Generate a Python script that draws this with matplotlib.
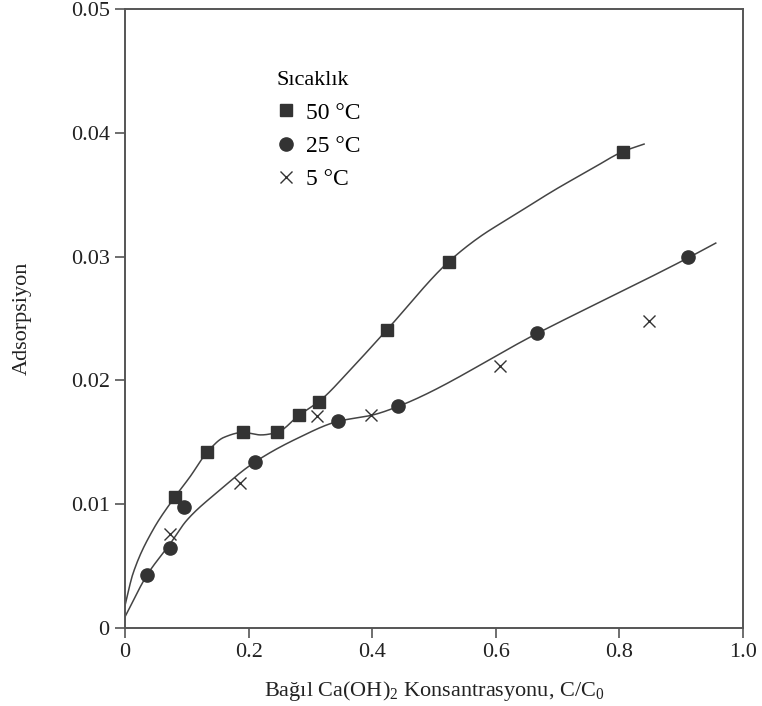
import numpy as np
from matplotlib import pyplot as plt

plt.rcParams['font.family'] = ['Liberation Serif', 'DejaVu Serif']
plt.rcParams['mathtext.fontset'] = 'custom'
plt.rcParams['mathtext.rm'] = 'Liberation Serif'
plt.rcParams['mathtext.it'] = 'Liberation Serif:italic'

# olculen noktalar
x50 = [0.081, 0.133, 0.191, 0.246, 0.282, 0.314, 0.424, 0.524, 0.806]
y50 = [0.0106, 0.0142, 0.0158, 0.0158, 0.0172, 0.0183, 0.0241, 0.0296, 0.0385]
x25 = [0.036, 0.073, 0.095, 0.210, 0.345, 0.442, 0.667, 0.911]
y25 = [0.0043, 0.0065, 0.0098, 0.0134, 0.0167, 0.0179, 0.0238, 0.0300]
x5 = [0.073, 0.186, 0.311, 0.398, 0.607, 0.848]
y5 = [0.0076, 0.0117, 0.0171, 0.0172, 0.0212, 0.0248]

# elle cizilmis egrilerin gectigi noktalar
fit50_x = [0.0, 0.013, 0.045, 0.081, 0.105, 0.133, 0.160, 0.191, 0.220, 0.246, 0.282,
           0.314, 0.369, 0.424, 0.524, 0.574, 0.628, 0.699, 0.752, 0.806, 0.840]
fit50_y = [0.0018, 0.0044, 0.0079, 0.0106, 0.0122, 0.0142, 0.0154, 0.0158, 0.0156, 0.0158, 0.0172,
           0.0183, 0.0211, 0.0241, 0.0296, 0.0316, 0.0333, 0.0355, 0.0370, 0.0385, 0.0391]
fit25_x = [0.0, 0.036, 0.073, 0.100, 0.150, 0.210, 0.278, 0.345, 0.400, 0.442, 0.667, 0.911, 0.956]
fit25_y = [0.0009, 0.0043, 0.0068, 0.0087, 0.0110, 0.0134, 0.0153, 0.0167, 0.0172, 0.0179, 0.0238, 0.0299, 0.0311]


def pchip(xs, ys, n=500):
    # monoton kubik hermite (Fritsch-Carlson)
    x = np.asarray(xs, float)
    y = np.asarray(ys, float)
    h = np.diff(x)
    delta = np.diff(y) / h
    d = np.zeros_like(y)
    for i in range(1, len(x) - 1):
        if delta[i - 1] * delta[i] > 0:
            w1 = 2 * h[i] + h[i - 1]
            w2 = h[i] + 2 * h[i - 1]
            d[i] = (w1 + w2) / (w1 / delta[i - 1] + w2 / delta[i])
    d[0] = delta[0]
    d[-1] = delta[-1]
    xx = np.linspace(x[0], x[-1], n)
    idx = np.clip(np.searchsorted(x, xx) - 1, 0, len(x) - 2)
    t = (xx - x[idx]) / h[idx]
    h00 = 2 * t ** 3 - 3 * t ** 2 + 1
    h10 = t ** 3 - 2 * t ** 2 + t
    h01 = -2 * t ** 3 + 3 * t ** 2
    h11 = t ** 3 - t ** 2
    yy = h00 * y[idx] + h10 * h[idx] * d[idx] + h01 * y[idx + 1] + h11 * h[idx] * d[idx + 1]
    return xx, yy


fig = plt.figure(figsize=(7.62, 7.06), dpi=100)
ax = fig.add_axes([0.164, 0.1105, 0.811, 0.8765])

c = '#333333'
lx, ly = pchip(fit50_x, fit50_y)
ax.plot(lx, ly, color='#444444', lw=1.1)
lx, ly = pchip(fit25_x, fit25_y)
ax.plot(lx, ly, color='#444444', lw=1.1)

ax.plot(x50, y50, 's', color=c, ms=8, label='50 °C', zorder=3)
ax.plot(x25, y25, 'o', color=c, ms=9.5, label='25 °C', zorder=3)
ax.plot(x5, y5, 'x', color=c, ms=8, mew=1.0, label='5 °C', zorder=3)

ax.set_xlim(0, 1.0)
ax.set_ylim(0, 0.05)
ax.set_xticks([0, 0.2, 0.4, 0.6, 0.8, 1.0])
ax.set_xticklabels(['0', '0.2', '0.4', '0.6', '0.8', '1.0'])
ax.set_yticks([0, 0.01, 0.02, 0.03, 0.04, 0.05])
ax.set_yticklabels(['0', '0.01', '0.02', '0.03', '0.04', '0.05'])
ax.tick_params(direction='out', length=7, width=1.2, color='#555555',
               labelsize=16, labelcolor='#222222', pad=4)
for s in ax.spines.values():
    s.set_color('#555555')
    s.set_linewidth(1.4)

ax.set_xlabel('Bağıl Ca(OH)$_2$ Konsantrasyonu, C/C$_0$', fontsize=16,
              color='#222222', labelpad=12)
ax.set_ylabel('Adsorpsiyon', fontsize=16, color='#222222', labelpad=28)

leg = ax.legend(title='Sıcaklık', loc='upper left', bbox_to_anchor=(0.23, 0.915),
                frameon=False, fontsize=17, title_fontsize=16, alignment='left',
                handlelength=0.8, handletextpad=0.45, labelspacing=0.5,
                borderaxespad=0)

plt.savefig('out.png', dpi=100)
plt.close('all')
